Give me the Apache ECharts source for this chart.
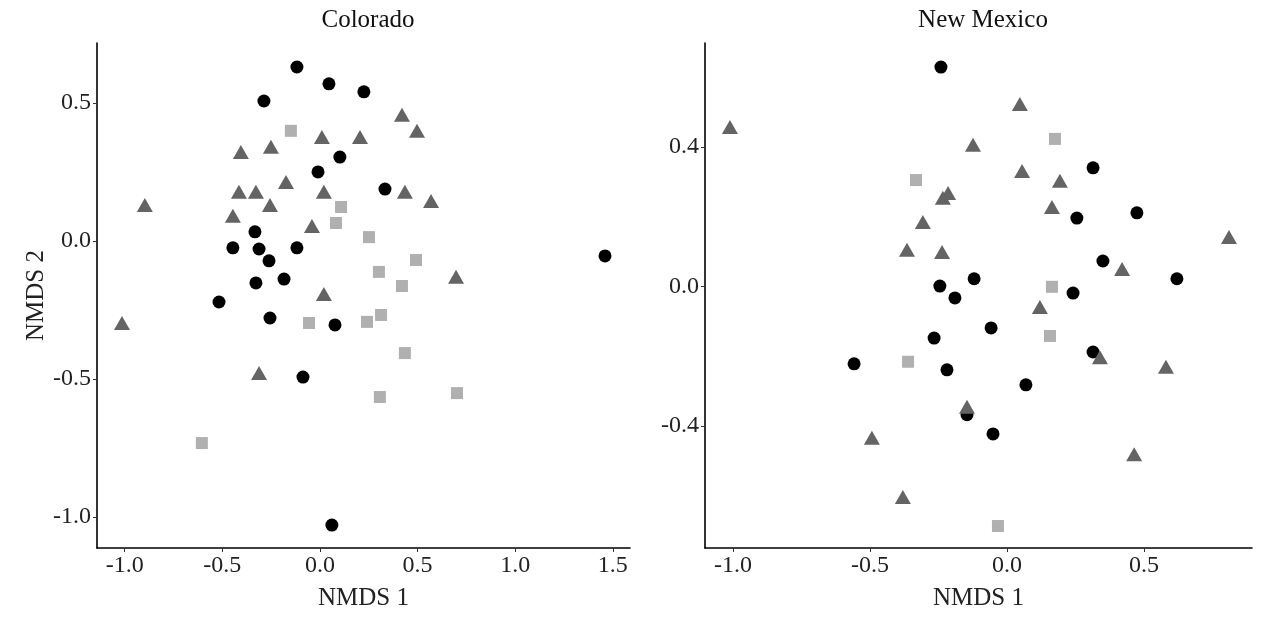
<!DOCTYPE html>
<html>
<head>
<meta charset="utf-8">
<script src="https://cdn.jsdelivr.net/npm/echarts@6/dist/echarts.min.js"></script>
<style>
  html, body { margin: 0; padding: 0; background: #fff; }
  #chart { width: 1274px; height: 622px; }
</style>
</head>
<body>
<div id="chart"></div>
<script>
// panel titles and tick labels
var panels = ['Colorado', 'New Mexico']
var coTicksX = [-1.0, -0.5, 0.0, 0.5, 1.0, 1.5]
var coTicksY = [-1.0, -0.5, 0.0, 0.5]
var nmTicksX = [-1.0, -0.5, 0.0, 0.5]
var nmTicksY = [-0.4, 0.0, 0.4]

// Colorado points [NMDS1, NMDS2]
var coCircles = [
  [-0.118, 0.630], [0.046, 0.569], [0.225, 0.540], [-0.287, 0.507], [0.102, 0.304],
  [-0.010, 0.250], [0.333, 0.188], [-0.333, 0.033], [-0.446, -0.025], [-0.312, -0.029],
  [-0.118, -0.025], [-0.261, -0.072], [-0.184, -0.138], [-0.328, -0.152], [-0.517, -0.221],
  [-0.256, -0.279], [0.077, -0.304], [-0.087, -0.493], [0.061, -1.029], [1.460, -0.054]
]
var coTriangles = [
  [-0.897, 0.130], [-0.405, 0.322], [-0.251, 0.341], [0.010, 0.377], [0.205, 0.377],
  [-0.174, 0.214], [-0.415, 0.178], [-0.328, 0.178], [0.020, 0.178], [-0.256, 0.130],
  [-0.446, 0.091], [-0.041, 0.054], [0.420, 0.457], [0.497, 0.399], [0.435, 0.178],
  [0.569, 0.145], [0.697, -0.130], [0.020, -0.192], [-1.014, -0.297], [-0.312, -0.478]
]
var coSquares = [
  [-0.149, 0.399], [0.108, 0.123], [0.082, 0.065], [0.251, 0.014], [0.492, -0.069],
  [0.302, -0.112], [0.420, -0.163], [-0.056, -0.297], [0.241, -0.293], [0.313, -0.268],
  [0.435, -0.406], [0.307, -0.565], [0.702, -0.551], [-0.605, -0.732]
]

// New Mexico points
var nmCircles = [
  [-0.241, 0.629], [0.314, 0.340], [0.255, 0.196], [0.474, 0.211], [0.350, 0.073],
  [0.620, 0.022], [0.241, -0.019], [-0.245, 0.001], [-0.120, 0.022], [-0.190, -0.033],
  [-0.266, -0.148], [-0.558, -0.222], [-0.219, -0.239], [0.314, -0.188], [-0.146, -0.368],
  [-0.058, -0.119], [0.069, -0.282], [-0.051, -0.423]
]
var nmTriangles = [
  [-1.011, 0.457], [-0.124, 0.406], [-0.215, 0.268], [-0.234, 0.254], [-0.307, 0.185],
  [-0.365, 0.105], [-0.237, 0.099], [0.047, 0.523], [0.055, 0.331], [0.193, 0.303],
  [0.164, 0.228], [0.810, 0.142], [0.420, 0.050], [0.120, -0.059], [-0.146, -0.345],
  [-0.493, -0.434], [-0.380, -0.604], [0.339, -0.203], [0.580, -0.230], [0.464, -0.481]
]
var nmSquares = [
  [-0.332, 0.305], [0.175, 0.423], [0.164, -0.001], [-0.361, -0.216], [0.157, -0.142],
  [-0.033, -0.687]
]

var font = 'Liberation Serif, Times New Roman, serif'
var fmt = function (v) { return Number(v).toFixed(1) }
var nameStyle = { fontFamily: font, fontSize: 25, color: '#222' }

function makeAxis(gridIndex, min, max, ticks, extra) {
  var ax = {
    type: 'value',
    gridIndex: gridIndex,
    min: min,
    max: max,
    splitLine: { show: false },
    axisLine: { show: true, onZero: false, lineStyle: { color: '#000', width: 1.6 } },
    axisTick: { show: true, length: 4, customValues: ticks, lineStyle: { color: '#333', width: 1 } },
    axisLabel: {
      customValues: ticks, formatter: fmt, color: '#222',
      fontFamily: font, fontSize: 24, margin: 6
    }
  }
  return Object.assign(ax, extra || {})
}

function pts(data, xi, symbol, size, color) {
  return {
    type: 'scatter',
    xAxisIndex: xi,
    yAxisIndex: xi,
    data: data,
    symbol: symbol,
    symbolSize: size,
    itemStyle: { color: color, opacity: 1 },
    silent: true
  }
}

var chart = echarts.init(document.getElementById('chart'))
chart.setOption({
  animation: false,
  backgroundColor: '#fff',
  title: [
    { text: panels[0], left: 363, top: 3, textAlign: 'center',
      textStyle: { fontFamily: font, fontSize: 25, fontWeight: 'normal', color: '#111' } },
    { text: panels[1], left: 978, top: 3, textAlign: 'center',
      textStyle: { fontFamily: font, fontSize: 25, fontWeight: 'normal', color: '#111' } }
  ],
  grid: [
    { left: 97, right: 644, top: 43, bottom: 74, containLabel: false, outerBoundsMode: 'none' },
    { left: 705, right: 22, top: 43, bottom: 74, containLabel: false, outerBoundsMode: 'none' }
  ],
  xAxis: [
    makeAxis(0, -1.142, 1.588, coTicksX, {
      name: 'NMDS 1', nameLocation: 'middle', nameGap: 38, nameTextStyle: nameStyle
    }),
    makeAxis(1, -1.102, 0.894, nmTicksX, {
      name: 'NMDS 1', nameLocation: 'middle', nameGap: 38, nameTextStyle: nameStyle
    })
  ],
  yAxis: [
    makeAxis(0, -1.112, 0.717, coTicksY, {
      name: 'NMDS 2', nameLocation: 'middle', nameGap: 44, nameTextStyle: nameStyle
    }),
    makeAxis(1, -0.75, 0.698, nmTicksY)
  ],
  series: [
    pts(coCircles, 0, 'circle', 13, '#000'),
    pts(coTriangles, 0, 'triangle', [16, 14], '#646464'),
    pts(coSquares, 0, 'rect', 12, '#b0b0b0'),
    pts(nmCircles, 1, 'circle', 13, '#000'),
    pts(nmTriangles, 1, 'triangle', [16, 14], '#646464'),
    pts(nmSquares, 1, 'rect', 12, '#b0b0b0')
  ]
})
</script>
</body>
</html>
